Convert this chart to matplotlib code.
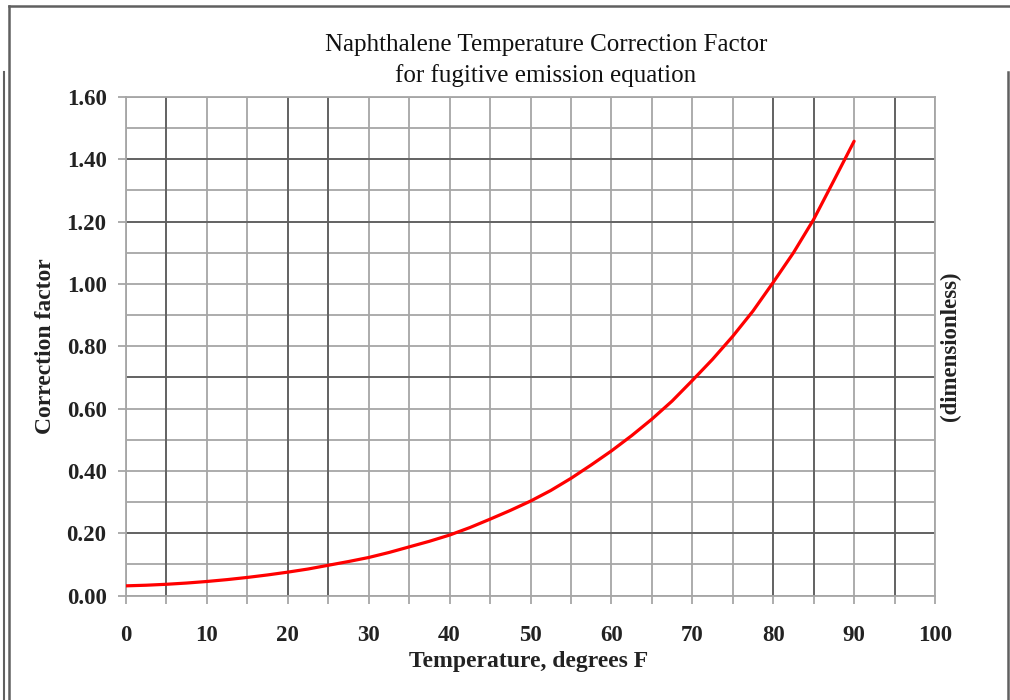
import matplotlib
matplotlib.use("Agg")
import matplotlib.pyplot as plt
from matplotlib.lines import Line2D

# ---- data ----
temperature_f = [0, 2.5, 5, 7.5, 10, 12.5, 15, 17.5, 20, 22.5, 25, 27.5, 30, 32.5, 35, 37.5,
                 40, 42.5, 45, 47.5, 50, 52.5, 55, 57.5, 60, 62.5, 65, 67.5, 70, 72.5, 75,
                 77.5, 80, 82.5, 85, 87.5, 90]
correction_factor = [0.031, 0.033, 0.036, 0.040, 0.045, 0.051, 0.058, 0.066, 0.075, 0.085,
                     0.097, 0.109, 0.122, 0.138, 0.156, 0.174, 0.194, 0.218, 0.245, 0.273,
                     0.303, 0.337, 0.376, 0.419, 0.464, 0.513, 0.566, 0.624, 0.690, 0.758,
                     0.832, 0.913, 1.005, 1.100, 1.207, 1.332, 1.458]

x_major = list(range(0, 101, 10))
x_minor = list(range(5, 100, 10))
y_major = [0.0, 0.2, 0.4, 0.6, 0.8, 1.0, 1.2, 1.4, 1.6]
y_minor = [0.1, 0.3, 0.5, 0.7, 0.9, 1.1, 1.3, 1.5]
y_labels = ["0.00", "0.20", "0.40", "0.60", "0.80", "1.00", "1.20", "1.40", "1.60"]

title_line1 = "Naphthalene Temperature Correction Factor"
title_line2 = "for fugitive emission equation"
xlabel_text = "Temperature, degrees F"
ylabel_text = "Correction factor"
right_label_text = "(dimensionless)"

# grid lines that appear darker in the reference (style only)
dark_vlines = [5, 20, 25, 80, 85, 95]
dark_hlines = [0.2, 0.7, 1.2, 1.4]

plt.rcParams['font.family'] = ['Liberation Serif', 'DejaVu Serif']

W, H = 1010, 700
fig = plt.figure(figsize=(W / 100, H / 100), dpi=100)
fig.patch.set_facecolor("white")

left, right, top, bottom = 126, 935, 97, 595.5
ax = fig.add_axes([left / W, 1 - bottom / H, (right - left) / W, (bottom - top) / H])

grid_color = "#a6a6a6"
dark_color = "#5e5e5e"

ax.set_xlim(0, 100)
ax.set_ylim(0, 1.6)
ax.set_xticks(x_major)
ax.set_xticks(x_minor, minor=True)
ax.set_yticks(y_major)
ax.set_yticklabels(y_labels)
ax.set_yticks(y_minor, minor=True)

ax.grid(True, which="both", color=grid_color, linewidth=1.3, zorder=0.5)
ax.set_axisbelow(True)

for xv in dark_vlines:
    ax.axvline(xv, color=dark_color, linewidth=1.3, zorder=1.5)
for yv in dark_hlines:
    ax.axhline(yv, color=dark_color, linewidth=1.3, zorder=1.5)

for s in ax.spines.values():
    s.set_color(grid_color)
    s.set_linewidth(1.3)

ax.tick_params(axis="x", which="both", direction="out", length=6, width=1.3,
               color=grid_color, pad=15, labelsize=16.5)
ax.tick_params(axis="y", which="major", direction="out", length=6, width=1.3,
               color=grid_color, pad=8, labelsize=16.5)
ax.tick_params(axis="y", which="minor", length=0)
for lab in ax.get_xticklabels() + ax.get_yticklabels():
    lab.set_fontweight("bold")
    lab.set_color("#222222")

ax.plot(temperature_f, correction_factor, color="#ff0000", linewidth=2.3,
        solid_capstyle="round", solid_joinstyle="round", zorder=3)

fig.text(546 / W, 1 - 51 / H, title_line1, ha="center", va="baseline",
         fontsize=18, color="#111111")
fig.text(546 / W, 1 - 82 / H, title_line2, ha="center", va="baseline",
         fontsize=18, color="#111111")
fig.text(529 / W, 1 - 662 / H, xlabel_text, ha="center", va="center",
         fontsize=17, fontweight="bold", color="#222222")
fig.text(46 / W, 1 - 346 / H, ylabel_text, ha="center", va="center", rotation=90,
         fontsize=17, fontweight="bold", color="#222222")
fig.text(950 / W, 1 - 346 / H, right_label_text, ha="center", va="center", rotation=90,
         fontsize=16.5, fontweight="bold", color="#222222")

# outer frame lines
frame_color = "#606060"
fig.add_artist(Line2D([8.5 / W, 1.0], [1 - 5.5 / H, 1 - 5.5 / H], transform=fig.transFigure,
                      color=frame_color, linewidth=1.8))
fig.add_artist(Line2D([8.5 / W, 8.5 / W], [0, 1 - 5.5 / H], transform=fig.transFigure,
                      color=frame_color, linewidth=1.8))
fig.add_artist(Line2D([3.5 / W, 3.5 / W], [0, 1 - 72 / H], transform=fig.transFigure,
                      color=frame_color, linewidth=1.5))
fig.add_artist(Line2D([1007.5 / W, 1007.5 / W], [0, 1 - 72 / H], transform=fig.transFigure,
                      color=frame_color, linewidth=1.8))

fig.savefig("out.png", dpi=100, facecolor="white")
